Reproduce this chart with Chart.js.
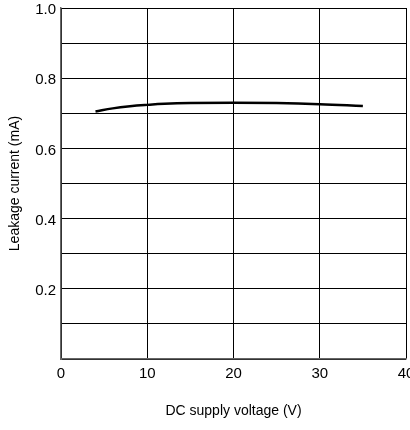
<!DOCTYPE html>
<html>
<head>
<meta charset="utf-8">
<script src="https://cdn.jsdelivr.net/npm/chart.js@4/dist/chart.umd.min.js"></script>
<style>
  html, body { margin: 0; padding: 0; background: #fff; }
  #wrap { width: 410px; height: 430px; }
</style>
</head>
<body>
<div id="wrap"><canvas id="leakChart"></canvas></div>
<script>
// Values
const voltage = [4, 6, 8, 10, 12, 15, 20, 25, 30, 35];
const leakage = [0.705, 0.714, 0.72, 0.724, 0.727, 0.729, 0.73, 0.729, 0.726, 0.721];

const xTicks = [0, 10, 20, 30, 40];
const yLabelled = [0.2, 0.4, 0.6, 0.8, 1.0];

const font = 'Liberation Sans, Arial, Helvetica, sans-serif';

const ctx = document.getElementById('leakChart').getContext('2d');
new Chart(ctx, {
    type: 'line',
    data: {
        datasets: [{
            data: voltage.map((v, i) => ({ x: v, y: leakage[i] })),
            borderColor: '#000',
            borderWidth: 2.5,
            pointRadius: 0,
            tension: 0.4,
            fill: false
        }]
    },
    options: {
        responsive: true,
        maintainAspectRatio: false,
        animation: false,
        layout: { padding: { top: 8, right: 4, bottom: 0, left: 0 } },
        plugins: { legend: { display: false }, tooltip: { enabled: false } },
        scales: {
            x: {
                type: 'linear',
                min: 0, max: 40,
                afterBuildTicks: s => { s.ticks = xTicks.map(v => ({ value: v })); },
                afterFit: s => { s.height = 71; s.paddingLeft = 0; s.paddingRight = 0; },
                grid: { color: '#000', lineWidth: 1, drawTicks: false },
                border: { color: '#666', width: 1.5 },
                ticks: { color: '#000', padding: 6, font: { family: font, size: 15 }, maxRotation: 0 },
                title: {
                    display: true,
                    text: 'DC supply voltage (V)',
                    color: '#000',
                    font: { family: font, size: 14 },
                    padding: { top: 0, bottom: 10 }
                }
            },
            y: {
                min: 0, max: 1.0,
                afterBuildTicks: s => {
                    const t = [];
                    for (let i = 0; i <= 10; i++) t.push({ value: i / 10 });
                    s.ticks = t;
                },
                afterFit: s => { s.width = 61; s.paddingTop = 0; s.paddingBottom = 0; },
                grid: { color: '#000', lineWidth: 1, drawTicks: false },
                border: { color: '#666', width: 1.5 },
                ticks: {
                    color: '#000',
                    padding: 5,
                    labelOffset: 2,
                    font: { family: font, size: 15 },
                    callback: v => yLabelled.some(l => Math.abs(l - v) < 1e-6) ? v.toFixed(1) : ''
                },
                title: {
                    display: true,
                    text: 'Leakage current (mA)',
                    color: '#000',
                    font: { family: font, size: 14 },
                    padding: { top: 7, bottom: 0 }
                }
            }
        }
    }
});
</script>
</body>
</html>
